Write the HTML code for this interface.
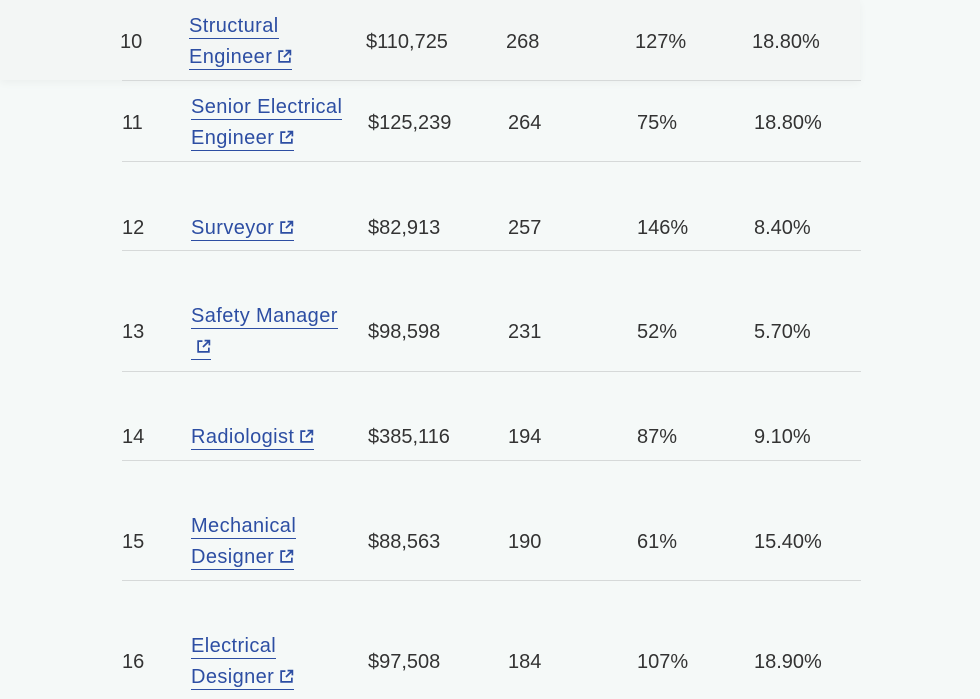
<!DOCTYPE html>
<html><head><meta charset="utf-8"><style>
html,body{margin:0;padding:0}
body{width:980px;height:699px;overflow:hidden;background:#f5f9f8;position:relative;font-family:"Liberation Sans",sans-serif;font-size:20px;color:#333}
.band{position:absolute;left:0;top:0;width:860px;height:80px;background:#f3f6f5;box-shadow:0 3px 8px rgba(0,0,0,0.04)}
.line{position:absolute;left:122px;width:739px;height:1px;background:#d6d9d9}
.c{position:absolute;line-height:31px;white-space:nowrap}
a{color:#2d4ea3;text-decoration:none;border-bottom:1px solid #2d4ea3;padding-bottom:1px}
.lnk{letter-spacing:0.4px}
.ic{display:inline-block;width:15px;height:15px;vertical-align:-1px;margin-left:5px}
</style></head><body>
<div class="band"></div>
<div class="line" style="top:80px"></div>
<div class="line" style="top:161px"></div>
<div class="line" style="top:250px"></div>
<div class="line" style="top:371px"></div>
<div class="line" style="top:460px"></div>
<div class="line" style="top:580px"></div>
<div id="rows"></div>
<script>
const ranks=["10","11","12","13","14","15","16"];
const titles=[["Structural","Engineer"],["Senior Electrical","Engineer"],["Surveyor"],["Safety Manager",""],["Radiologist"],["Mechanical","Designer"],["Electrical","Designer"]];
const salaries=["$110,725","$125,239","$82,913","$98,598","$385,116","$88,563","$97,508"];
const counts=["268","264","257","231","194","190","184"];
const growth=["127%","75%","146%","52%","87%","61%","107%"];
const rates=["18.80%","18.80%","8.40%","5.70%","9.10%","15.40%","18.90%"];
const centers=[42,123,228,332,437,542,662];
const icon='<svg class="ic" viewBox="0 0 14 14"><path d="M6 2H2v10h10V8" fill="none" stroke="#2d4ea3" stroke-width="1.6"/><path d="M8 1.5h4.5V6M12.5 1.5L6.5 7.5" fill="none" stroke="#2d4ea3" stroke-width="1.6"/></svg>';
const root=document.getElementById('rows');
ranks.forEach((r,i)=>{
  const dx=i===0?-2:0;
  const cy=centers[i];
  const cols=[[122,r,'rank'],[368,salaries[i],'salary'],[508,counts[i],'job-count'],[637,growth[i],'growth'],[754,rates[i],'rate']];
  cols.forEach(([x,t,n])=>{
    const d=document.createElement('div');d.className='c';
    d.style.left=(x+dx)+'px';d.style.top=(cy-15.5)+'px';d.textContent=t;
    
    
    root.appendChild(d);
  });
  const t=titles[i];
  const d=document.createElement('div');d.className='c lnk';
  d.style.left=(191+dx)+'px';d.style.top=(cy-15.5*t.length)+'px';
  d.innerHTML=t.map((s,j)=>'<a>'+s+(j===t.length-1?icon:'')+'</a>').join('<br>');
  
  
  root.appendChild(d);
});
</script>
</body></html>
